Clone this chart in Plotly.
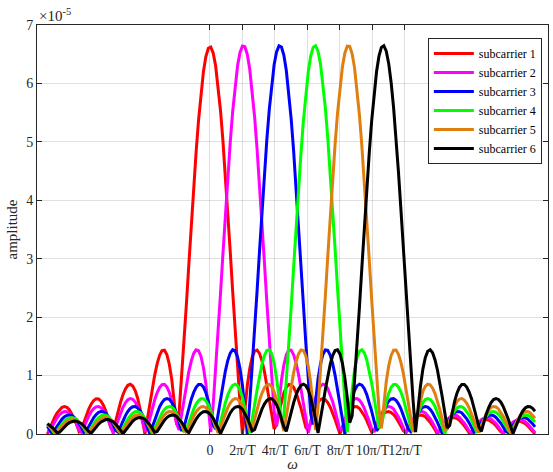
import numpy as np
import plotly.graph_objects as go

# ---- data ----
subcarrier_names = ["subcarrier 1", "subcarrier 2", "subcarrier 3",
                    "subcarrier 4", "subcarrier 5", "subcarrier 6"]
# centre frequency of each subcarrier, in units of 2*pi/T
subcarrier_centers = [0.0, 1.03, 2.15, 3.23, 4.26, 5.33]
# peak amplitude of each subcarrier spectrum
subcarrier_peaks = [6.63e-5, 6.65e-5, 6.65e-5, 6.65e-5, 6.65e-5, 6.65e-5]
# frequency span sampled (units of 2*pi/T)
omega_start, omega_stop, omega_step = -5.0, 10.0, 0.075
line_colors = ["#ff0000", "#ff00ff", "#0000ff", "#00ff00", "#df7f10", "#000000"]

x_tick_vals = [0, 1, 2, 3, 4, 5, 6]
x_tick_text = ["0", "2π/T", "4π/T", "6π/T", "8π/T", "10π/T", "12π/T"]
y_tick_vals = [0, 1e-5, 2e-5, 3e-5, 4e-5, 5e-5, 6e-5, 7e-5]
y_tick_text = ["0", "1", "2", "3", "4", "5", "6", "7"]

omega = np.arange(omega_start, omega_stop + omega_step / 2, omega_step)

fig = go.Figure()
for name, c, a, col in zip(subcarrier_names, subcarrier_centers, subcarrier_peaks, line_colors):
    amp = a * np.abs(np.sinc(omega - c))
    fig.add_trace(go.Scatter(x=omega, y=amp, mode="lines", name=name,
                             line=dict(color=col, width=3)))

font_family = "Liberation Serif, Times New Roman, serif"
axis_common = dict(showline=True, linecolor="#262626", linewidth=1, mirror="ticks",
                   ticks="inside", ticklen=5, tickcolor="#262626", automargin=False,
                   showgrid=True, gridcolor="rgba(0,0,0,0.12)", gridwidth=1,
                   zeroline=False, tickfont=dict(family=font_family, size=14, color="#262626"))

fig.update_layout(
    width=553, height=472,
    margin=dict(l=37, r=5, t=25, b=38),
    paper_bgcolor="white", plot_bgcolor="white",
    font=dict(family=font_family, color="#262626"),
    xaxis=dict(range=[-5.32, 10.4], tickvals=x_tick_vals, ticktext=x_tick_text,
               tickangle=0, ticklabelstandoff=3,
               title=dict(text="<i>ω</i>", font=dict(family=font_family, size=15), standoff=4),
               **axis_common),
    yaxis=dict(range=[0, 7e-5], tickvals=y_tick_vals, ticktext=y_tick_text,
               title=dict(text="amplitude", font=dict(family=font_family, size=15), standoff=4),
               **axis_common),
    legend=dict(x=0.988, y=0.968, xanchor="right", yanchor="top",
                bgcolor="white", bordercolor="#262626", borderwidth=1,
                font=dict(family=font_family, size=12, color="#000"),
                tracegroupgap=0, itemwidth=40),
    showlegend=True,
)
fig.add_annotation(xref="paper", yref="paper", x=0, y=1, xanchor="left", yanchor="bottom",
                   text="×10<sup>-5</sup>", showarrow=False, yshift=-1,
                   font=dict(family=font_family, size=15, color="#262626"))

fig.write_html("out.html")
